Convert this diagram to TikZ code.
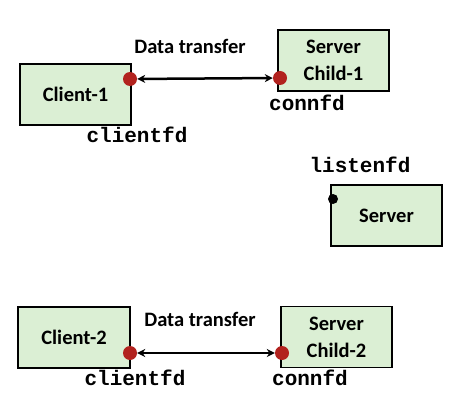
\documentclass[tikz,border=0pt]{standalone}
\usepackage{fontspec}
\setmainfont{Carlito}
\newfontfamily\codefont{Liberation Mono}
\usetikzlibrary{arrows.meta}
\definecolor{boxgreen}{RGB}{219,239,212}
\definecolor{dotred}{RGB}{178,34,30}
\tikzset{
  procbox/.style={draw=black, line width=1.2pt, fill=boxgreen, minimum width=111pt, minimum height=61pt, inner sep=0pt, align=center, font=\fontsize{20.5}{27}\selectfont\bfseries},
  reddot/.style={circle, fill=dotred, minimum size=14pt, inner sep=0pt},
  blackdot/.style={circle, fill=black, minimum size=10pt, inner sep=0pt},
  codelabel/.style={font=\codefont\fontsize{21}{24}\selectfont\bfseries, inner sep=0pt},
  plainlabel/.style={font=\fontsize{20.5}{24}\selectfont\bfseries, inner sep=0pt},
  xfer/.style={line width=2.5pt, {Stealth[length=8pt,width=8pt]}-{Stealth[length=8pt,width=8pt]}}
}
\begin{document}
\begin{tikzpicture}[x=1pt,y=-1pt]
\useasboundingbox (0,0) rectangle (468,406);
% boxes
\node[procbox] (client1) at (75.5,94.5) {Client-1};
\node[procbox] (child1) at (333.5,60.5) {Server\\Child-1};
\node[procbox] (server) at (386.5,215.5) {Server};
\node[procbox, minimum width=112pt] (client2) at (74,337.5) {Client-2};
\node[procbox] (child2) at (336.5,337) {Server\\Child-2};
% dots
\node[reddot] (d1) at (130,79) {};
\node[reddot] (d2) at (280,78) {};
\node[blackdot] (d3) at (333,199) {};
\node[reddot] (d4) at (130,353) {};
\node[reddot] (d5) at (282,353) {};
% connectors
\draw[xfer] (d1) -- (d2);
\draw[xfer] (d4) -- (d5);
% labels
\node[plainlabel] (t1) at (190,46) {Data transfer};
\node[plainlabel] (t2) at (200,319) {Data transfer};
\node[codelabel] (l1) at (137,135) {clientfd};
\node[codelabel] (l2) at (307,103) {connfd};
\node[codelabel] (l3) at (360,165) {listenfd};
\node[codelabel] (l4) at (135,378) {clientfd};
\node[codelabel] (l5) at (310,378) {connfd};
\end{tikzpicture}
\end{document}
